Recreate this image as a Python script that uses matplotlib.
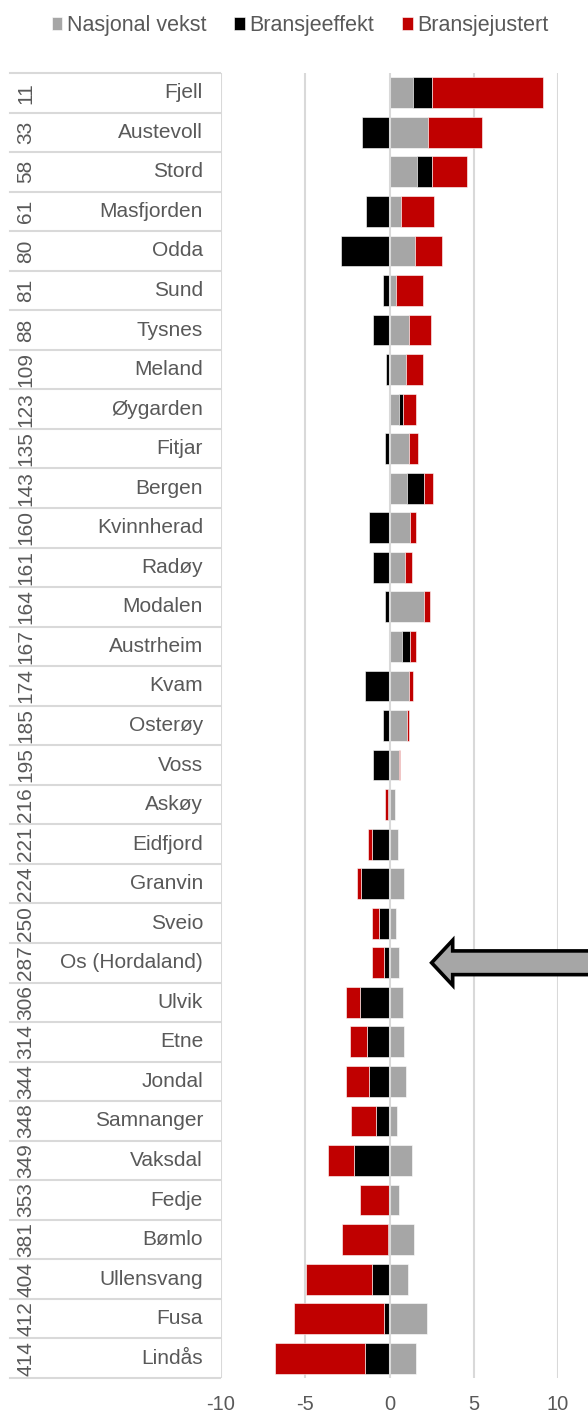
import numpy as np
import matplotlib
matplotlib.use("Agg")
import matplotlib.pyplot as plt
from matplotlib.transforms import blended_transform_factory
from matplotlib.patches import FancyArrow

plt.rcParams['font.family'] = ['Liberation Sans', 'DejaVu Sans']

# data
ranks = [11, 33, 58, 61, 80, 81, 88, 109, 123, 135, 143, 160, 161, 164, 167, 174,
         185, 195, 216, 221, 224, 250, 287, 306, 314, 344, 348, 349, 353, 381, 404, 412, 414]
kommuner = ['Fjell', 'Austevoll', 'Stord', 'Masfjorden', 'Odda', 'Sund', 'Tysnes', 'Meland',
            'Øygarden', 'Fitjar', 'Bergen', 'Kvinnherad', 'Radøy', 'Modalen', 'Austrheim', 'Kvam',
            'Osterøy', 'Voss', 'Askøy', 'Eidfjord', 'Granvin', 'Sveio', 'Os (Hordaland)', 'Ulvik',
            'Etne', 'Jondal', 'Samnanger', 'Vaksdal', 'Fedje', 'Bømlo', 'Ullensvang', 'Fusa', 'Lindås']
nasjonal_vekst = [1.38, 2.31, 1.62, 0.67, 1.52, 0.41, 1.15, 0.95, 0.59, 1.15, 1.01, 1.19, 0.91,
                  2.02, 0.77, 1.13, 1.01, 0.59, 0.30, 0.49, 0.85, 0.36, 0.55, 0.79, 0.87, 0.99,
                  0.42, 1.33, 0.59, 1.48, 1.09, 2.22, 1.60]
bransjeeffekt = [1.13, -1.64, 0.93, -1.42, -2.89, -0.41, -0.97, -0.18, 0.20, -0.24, 1.05, -1.19,
                 -0.95, -0.24, 0.44, -1.48, -0.40, -0.95, -0.08, -1.05, -1.70, -0.63, -0.32,
                 -1.74, -1.33, -1.23, -0.79, -2.10, -0.03, -0.06, -1.03, -0.34, -1.44]
bransjejustert = [6.59, 3.15, 2.02, 1.98, 1.58, 1.56, 1.29, 1.01, 0.77, 0.57, 0.53, 0.40, 0.42,
                  0.38, 0.36, 0.24, 0.12, 0.04, -0.17, -0.20, -0.20, -0.42, -0.69, -0.87, -0.99,
                  -1.38, -1.50, -1.54, -1.70, -2.77, -3.92, -5.34, -5.38]
serier = ['Nasjonal vekst', 'Bransjeeffekt', 'Bransjejustert']
farger = ['#a6a6a6', '#000000', '#c00000']
xticks = [-10, -5, 0, 5, 10]
markert = 'Os (Hordaland)'

W, H = 588, 1414
fig = plt.figure(figsize=(W / 100, H / 100), dpi=100)
left, right, top, bottom = 221, 558, 73, 1378
ax = fig.add_axes([left / W, 1 - bottom / H, (right - left) / W, (bottom - top) / H])

grå_tekst = '#595959'
linje = '#d9d9d9'

y = np.arange(len(kommuner))
pos_base = np.zeros(len(y))
neg_base = np.zeros(len(y))
for navn, verdier, farge in zip(serier, [nasjonal_vekst, bransjeeffekt, bransjejustert], farger):
    v = np.array(verdier)
    start = np.where(v >= 0, pos_base, neg_base)
    ax.barh(y, v, left=start, height=0.78, color=farge, label=navn,
            edgecolor='white', linewidth=0.4, zorder=2)
    pos_base = pos_base + np.clip(v, 0, None)
    neg_base = neg_base + np.clip(v, None, 0)

ax.set_xlim(-10, 10)
ax.set_ylim(len(y) - 0.5, -0.5)
ax.set_xticks(xticks)
ax.set_xticklabels([str(t) for t in xticks])
ax.set_yticks([])
for s in ax.spines.values():
    s.set_visible(False)
ax.tick_params(axis='x', length=0, pad=12, labelsize=14.5, labelcolor=grå_tekst)
for t in xticks:
    ax.axvline(t, color=linje, lw=1.5, zorder=1 if t != 0 else 3)

# category table on the left
trans = blended_transform_factory(fig.transFigure, ax.transData)
for i, (r, k) in enumerate(zip(ranks, kommuner)):
    ax.text(26 / W, i, str(r), rotation=90, ha='center', va='center',
            fontsize=15, color=grå_tekst, transform=trans)
    ax.text(203 / W, i, k, ha='right', va='center', fontsize=15,
            color=grå_tekst, transform=trans)
for b in np.arange(len(y) + 1) - 0.5:
    ax.plot([10 / W, 220 / W], [b, b], color=linje, lw=1.5, transform=trans,
            clip_on=False, zorder=1)

# arrow pointing at the highlighted row
rad = kommuner.index(markert)
ax.add_patch(FancyArrow(12.0, rad, -9.5, 0, width=0.6, head_width=1.14, head_length=1.25,
                        length_includes_head=True, fc='#a6a6a6', ec='black', lw=2.6,
                        clip_on=False, zorder=4))

fig.legend(loc='upper center', bbox_to_anchor=(0.51, 1.0), ncol=3, frameon=False,
           fontsize=15.5, labelcolor=grå_tekst, handlelength=0.5, handleheight=0.5,
           handletextpad=0.2, columnspacing=1.3, borderaxespad=0.3)

fig.savefig('out.png', dpi=100)
